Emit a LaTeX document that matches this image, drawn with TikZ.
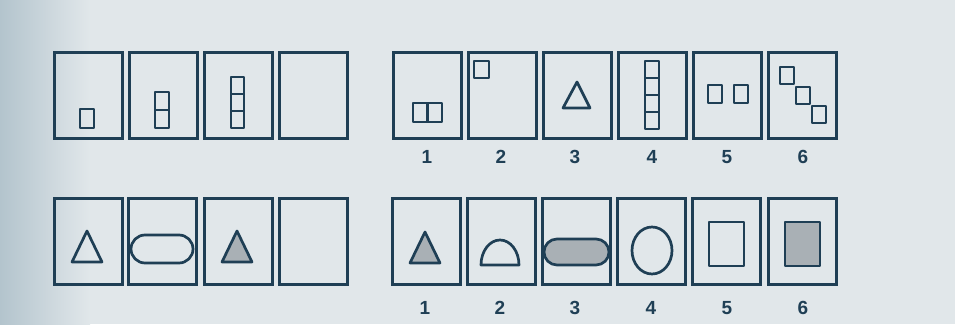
\documentclass[tikz,border=0pt]{standalone}
\usepackage{fontspec}
\setmainfont{Liberation Sans}
\definecolor{ink}{HTML}{1F3F55}
\definecolor{paper}{HTML}{E1E7EA}
\definecolor{paperdark}{HTML}{B3C4CD}
\definecolor{shade}{HTML}{A9B0B5}
\tikzset{
  frame/.style={draw=ink, line width=3pt, minimum width=68pt, minimum height=86pt, inner sep=0pt},
  shp/.style={draw=ink, line width=2.7pt, line join=round},
  gshp/.style={shp, fill=shade},
  lbl/.style={font=\fontsize{19}{19}\selectfont\bfseries, text=ink, inner sep=0pt}
}
\begin{document}
\begin{tikzpicture}[x=1pt,y=-1pt]
\useasboundingbox (0,0) rectangle (955,324);
\fill[paper] (0,0) rectangle (955,324);
\shade[left color=paperdark, right color=paper] (0,0) rectangle (90,324);

% ---- top row, left (series) ----
\node[frame] (tl1) at (88,95) {};
\node[frame] (tl2) at (163,95) {};
\node[frame] (tl3) at (238,95) {};
\node[frame] (tl4) at (313,95) {};
\draw[shp] (80,109) rectangle (94,128);
\draw[shp] (155,92) rectangle (169,128) (155,110) -- (169,110);
\draw[shp] (231,77) rectangle (244,128) (231,94) -- (244,94) (231,111) -- (244,111);

% ---- top row, right (answers) ----
\node[frame] (tr1) at (427,95) {};
\node[frame] (tr2) at (502,95) {};
\node[frame] (tr3) at (577,95) {};
\node[frame] (tr4) at (652,95) {};
\node[frame] (tr5) at (727,95) {};
\node[frame] (tr6) at (802,95) {};
\draw[shp] (413,103) rectangle (442,122) (427.5,103) -- (427.5,122);
\draw[shp] (474,61) rectangle (489,78);
\draw[shp] (577,82) -- (590,108) -- (563,108) -- cycle;
\draw[shp] (645,61) rectangle (659,129) (645,78) -- (659,78) (645,95) -- (659,95) (645,112) -- (659,112);
\draw[shp] (708,85) rectangle (722,103);
\draw[shp] (734,85) rectangle (748,103);
\draw[shp] (780,67) rectangle (794,84);
\draw[shp] (796,87) rectangle (810,104);
\draw[shp] (812,106) rectangle (826,123);
\node[lbl] (n1) at (427,157) {1};
\node[lbl] (n2) at (501,157) {2};
\node[lbl] (n3) at (575,157) {3};
\node[lbl] (n4) at (652,157) {4};
\node[lbl] (n5) at (727,157) {5};
\node[lbl] (n6) at (803,157) {6};

% ---- bottom row, left (series) ----
\node[frame] (bl1) at (88,241.5) {};
\node[frame] (bl2) at (162.5,241.5) {};
\node[frame] (bl3) at (238,241.5) {};
\node[frame] (bl4) at (313,241.5) {};
\draw[shp] (87,231) -- (102,262) -- (72,262) -- cycle;
\draw[shp, rounded corners=14pt] (131,235) rectangle (193,263);
\draw[gshp] (237,231) -- (252,262) -- (222,262) -- cycle;

% ---- bottom row, right (answers) ----
\node[frame] (br1) at (426,241.5) {};
\node[frame] (br2) at (501,241.5) {};
\node[frame] (br3) at (576,241.5) {};
\node[frame] (br4) at (651,241.5) {};
\node[frame] (br5) at (726.5,241.5) {};
\node[frame] (br6) at (802,241.5) {};
\draw[gshp] (425,232) -- (440,263) -- (410,263) -- cycle;
\draw[shp] (481,265) arc[start angle=180, end angle=360, x radius=19, y radius=25] -- cycle;
\draw[gshp, rounded corners=13pt] (544,239) rectangle (609,265);
\draw[shp] (652,250.5) ellipse [x radius=20, y radius=23.5];
\draw[shp] (709,222) rectangle (744,266);
\draw[gshp] (785,222) rectangle (820,266);
\node[lbl] (m1) at (425,308) {1};
\node[lbl] (m2) at (500,308) {2};
\node[lbl] (m3) at (575,308) {3};
\node[lbl] (m4) at (651,308) {4};
\node[lbl] (m5) at (727,308) {5};
\node[lbl] (m6) at (803,308) {6};
\end{tikzpicture}
\end{document}
